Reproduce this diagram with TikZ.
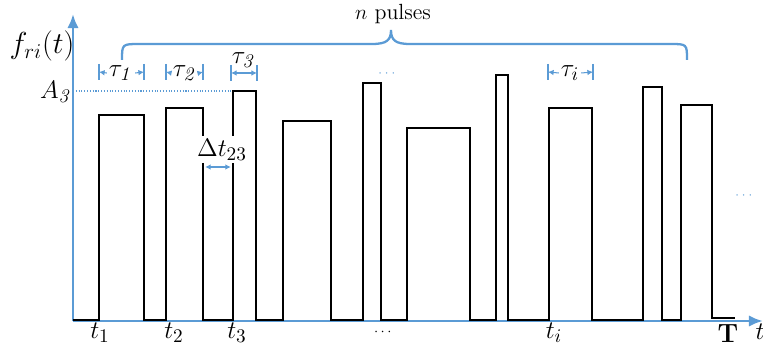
\documentclass[tikz,border=0pt]{standalone}
\usepackage{amsmath,amssymb}
\usetikzlibrary{arrows.meta}
\definecolor{axblue}{RGB}{91,155,213}
\tikzset{
  axis/.style={axblue, line width=1.6pt, -{Latex[length=8pt,width=6.5pt]}},
  pulse/.style={black, line width=1.5pt, line join=miter},
  dim/.style={axblue, line width=0.6pt},
  dimarrow/.style={dim, -{Latex[length=3.2pt,width=3.2pt]}},
  lab/.style={inner sep=0pt, font=\fontsize{15}{17}\selectfont},
  dimlab/.style={inner sep=1pt, font=\fontsize{15}{17}\selectfont},
}
\begin{document}
\begin{tikzpicture}[x=0.02cm,y=-0.02cm]
\useasboundingbox (0,0) rectangle (763,347);
\path
(73,321) coordinate (O)
(73,14) coordinate (ytop)
(763,321) coordinate (xend)
(42,46) node[inner sep=0pt, font=\fontsize{17}{19}\selectfont] (fri) {$f_{ri}(t)$}
(56,92) node[lab] (Athree) {$A_{\mathit 3}$}
(73,91) coordinate (Aaxis)
(233,91) coordinate (Apulse)
(100,333) node[lab] (tone) {$t_1$}
(174,333) node[lab] (ttwo) {$t_2$}
(237,333) node[lab] (tthree) {$t_3$}
(384,332) node[inner sep=0pt, font=\footnotesize] (tdots) {$\cdots$}
(554,333) node[lab] (ti) {$t_i$}
(728,334) node[lab] (Tend) {\textbf{T}}
(760,332) node[lab] (tlab) {$t$}
(393,14) node[inner sep=0pt, font=\fontsize{12.5}{14}\selectfont] (npulses) {$n$ pulses}
(388,74) node[inner sep=0pt, font=\scriptsize, text=axblue] (topdots) {$\cdots$}
(745,196) node[inner sep=0pt, font=\scriptsize, text=axblue] (rightdots) {$\cdots$}
(222,150) node[lab] (dtlab) {$\Delta t_{23}$}
(203,167) coordinate (dta)
(233,167) coordinate (dtb)
(121,73) node[dimlab] (tauone) {$\tau_{\mathit 1}$}
(99,72) coordinate (tauonea)
(144,72) coordinate (tauoneb)
(185,73) node[dimlab] (tautwo) {$\tau_{\mathit 2}$}
(166,72) coordinate (tautwoa)
(203,72) coordinate (tautwob)
(244,60) node[lab] (tauthree) {$\tau_{\mathit 3}$}
(231,73) coordinate (tauthreea)
(257,73) coordinate (tauthreeb)
(570,73) node[dimlab] (taui) {$\tau_i$}
(548,72) coordinate (tauia)
(593,72) coordinate (tauib);
% axes
\draw[axis] (O)--(ytop);
\draw[axis] (O)--(xend);
\draw[axblue, line width=0.6pt, densely dotted] (Aaxis)--(Apulse);
% pulse train
\draw[pulse] (73,320) -- (99,320) -- (99,115) -- (144,115) -- (144,320)
  -- (166,320) -- (166,108) -- (203,108) -- (203,136);
\draw[pulse] (203,163) -- (203,320) -- (233,320) -- (233,163);
\draw[pulse] (233,136) -- (233,91) -- (256,91) -- (256,320)
  -- (283,320) -- (283,121) -- (331,121) -- (331,320)
  -- (363,320) -- (363,83) -- (381,83) -- (381,320)
  -- (407,320) -- (407,128) -- (470,128) -- (470,320)
  -- (496,320) -- (496,75) -- (508,75) -- (508,320)
  -- (549,320) -- (549,108) -- (592,108) -- (592,320)
  -- (643,320) -- (643,87) -- (662,87) -- (662,320)
  -- (681,320) -- (681,105) -- (712,105) -- (712,318) -- (735,318);
% brace over the pulses
\draw[axblue, line width=1.3pt] (122,60) .. controls (122,44) .. (140,44) -- (372,44)
  .. controls (387,44) and (391,40) .. (391,30)
  .. controls (391,40) and (395,44) .. (410,44) -- (670,44)
  .. controls (687,44) .. (687,60);
% widths
\foreach \p in {tauonea,tauoneb,tautwoa,tautwob,tauthreea,tauthreeb,tauia,tauib}
  \draw[dim] ([yshift=4.6pt]\p) -- ([yshift=-4.6pt]\p);
\draw[dimarrow] (tauone.west)--(tauonea);
\draw[dimarrow] (tauone.east)--(tauoneb);
\draw[dimarrow] (tautwo.west)--(tautwoa);
\draw[dimarrow] (tautwo.east)--(tautwob);
\draw[dimarrow] (taui.west)--(tauia);
\draw[dimarrow] (taui.east)--(tauib);
\draw[dim, {Latex[length=3.2pt,width=3.2pt]}-{Latex[length=3.2pt,width=3.2pt]}]
  (tauthreea)--(tauthreeb);
\draw[dim, {Latex[length=3.2pt,width=3.2pt]}-{Latex[length=3.2pt,width=3.2pt]},
  shorten <=1.2pt, shorten >=1.2pt] (dta)--(dtb);
\end{tikzpicture}
\end{document}
